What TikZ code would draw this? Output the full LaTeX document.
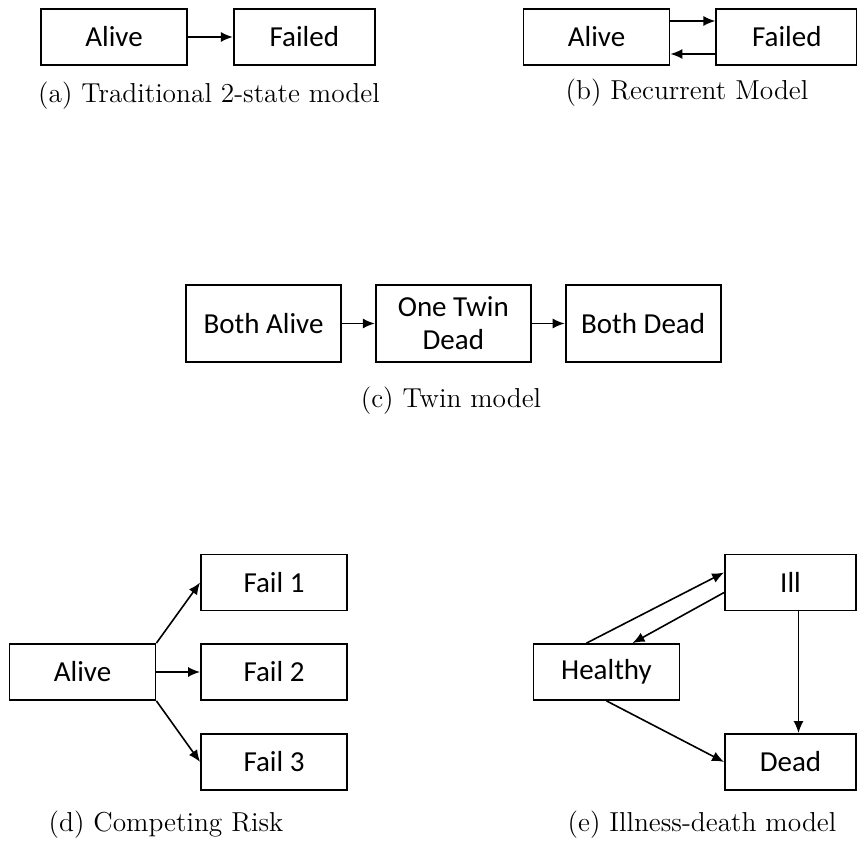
\documentclass[tikz,border=0pt]{standalone}
\usepackage{fontspec}
\newfontfamily\boxfont{Carlito}
\usetikzlibrary{arrows.meta,positioning}
\tikzset{
  statebox/.style={draw,line width=0.9pt,minimum width=73pt,minimum height=28pt,
    inner sep=2pt,align=center,font=\boxfont\fontsize{14.5}{16.5}\selectfont},
  twinbox/.style={statebox,minimum width=77.5pt,minimum height=38.5pt},
  trans/.style={-{Latex[length=6pt,width=5pt]},line width=0.8pt},
  subcap/.style={inner sep=0pt,font=\fontsize{13.7}{16}\selectfont}
}

\begin{document}
\begin{tikzpicture}[x=0.5pt,y=-0.5pt]
  \useasboundingbox (0,0) rectangle (857,844);

  % (a) two states
  \node[statebox] (alive-a) at (114,37) {Alive};
  \node[statebox,minimum width=70.5pt,right=22.5pt of alive-a] (failed-a) {Failed};
  \draw[trans] (alive-a) -- (failed-a);
  \node[subcap] (cap-a) at (209,96) {(a) Traditional 2-state model};

  % (b) recurrent
  \node[statebox] (alive-b) at (596.5,37) {Alive};
  \node[statebox,minimum width=70.5pt,right=22.5pt of alive-b] (failed-b) {Failed};
  \draw[trans] ([yshift=8pt]alive-b.east) -- ([yshift=8pt]failed-b.west);
  \draw[trans] ([yshift=-8.5pt]failed-b.west) -- ([yshift=-8.5pt]alive-b.east);
  \node[subcap] (cap-b) at (687,93) {(b) Recurrent Model};

  % (c) twins
  \node[twinbox] (both-alive) at (263.5,323.5) {Both Alive};
  \node[twinbox,right=16.5pt of both-alive] (one-dead) {One Twin\\Dead};
  \node[twinbox,right=16.5pt of one-dead] (both-dead) {Both Dead};
  \draw[trans] (both-alive) -- (one-dead);
  \draw[trans] (one-dead) -- (both-dead);
  \node[subcap] (cap-c) at (451,401) {(c) Twin model};

  % (d) competing risks
  \node[statebox] (alive-d) at (82.5,672) {Alive};
  \node[statebox] (fail-1) at (274,582.5) {Fail 1};
  \node[statebox] (fail-2) at (274,672) {Fail 2};
  \node[statebox] (fail-3) at (274,762) {Fail 3};
  \draw[trans] (alive-d.north east) -- (fail-1.west);
  \draw[trans] (alive-d.east) -- (fail-2.west);
  \draw[trans] (alive-d.south east) -- (fail-3.west);
  \node[subcap] (cap-d) at (166,825) {(d) Competing Risk};

  % (e) illness-death
  \node[statebox] (healthy) at (606.5,672) {Healthy};
  \node[statebox,minimum width=65.5pt] (ill) at (790.5,582.5) {Ill};
  \node[statebox,minimum width=65.5pt] (dead) at (790.5,762) {Dead};
  \draw[trans] ([xshift=-10pt]healthy.north) -- ([yshift=5pt]ill.west);
  \draw[trans] ([yshift=-5pt]ill.west) -- ([xshift=13pt]healthy.north);
  \draw[trans] ([xshift=4pt]ill.south) -- ([xshift=4pt]dead.north);
  \draw[trans] (healthy.south) -- (dead.west);
  \node[subcap] (cap-e) at (702,825) {(e) Illness-death model};
\end{tikzpicture}
\end{document}
